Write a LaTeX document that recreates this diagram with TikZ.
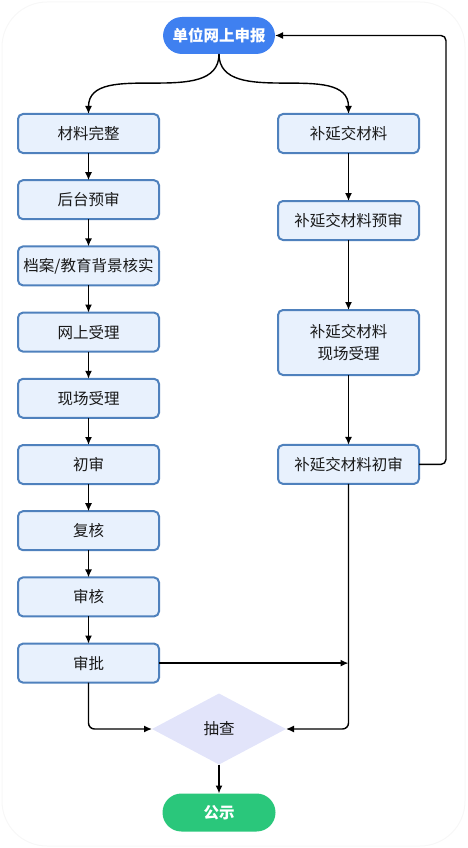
\documentclass[tikz,border=0pt]{standalone}
\usepackage{fontspec}
\setmainfont{Noto Sans CJK SC}
\usetikzlibrary{shapes.geometric,arrows.meta,positioning}
\definecolor{boxfill}{HTML}{E8F1FD}
\definecolor{boxline}{HTML}{4F81BD}
\definecolor{startblue}{HTML}{3F80F0}
\definecolor{endgreen}{HTML}{2AC77B}
\definecolor{checkfill}{HTML}{E2E4FA}
\tikzset{
    flowbox/.style   = {draw=boxline, fill=boxfill, line width=2pt, rounded corners=5pt,
                        minimum width=141pt, minimum height=39pt, inner sep=0pt, outer sep=0pt,
                        align=center, text=black!90, font=\fontsize{15.5}{22}\selectfont},
    pillbox/.style   = {draw=none, rounded corners=19pt, minimum width=113pt, minimum height=38pt,
                        inner sep=0pt, outer sep=0pt, text=white, font=\fontsize{15.5}{18}\selectfont\bfseries},
    checkbox/.style  = {diamond, draw=none, fill=checkfill, minimum width=134pt, minimum height=71pt,
                        inner sep=0pt, outer sep=0pt, text=black!90, font=\fontsize{15.5}{18}\selectfont},
    flowedge/.style  = {black, line width=1.4pt, -{Latex[length=8pt,width=7pt]}},
}

\begin{document}
\begin{tikzpicture}[x=1pt,y=1pt]
        \useasboundingbox (0,0) rectangle (467,-848);
        \draw[black!3, line width=1pt, rounded corners=45pt] (2,-2) rectangle (465,-846);

        \node[pillbox, fill=startblue, minimum width=112pt, minimum height=37pt] (S) at (219,-35.5) {单位网上申报};

        % left column
        \node[flowbox] (L1) at (88.5,-133.5) {材料完整};
        \node[flowbox, below=27.2pt of L1] (L2) {后台预审};
        \node[flowbox, below=27.2pt of L2] (L3) {档案/教育背景核实};
        \node[flowbox, below=27.2pt of L3] (L4) {网上受理};
        \node[flowbox, below=27.2pt of L4] (L5) {现场受理};
        \node[flowbox, below=27.2pt of L5] (L6) {初审};
        \node[flowbox, below=27.2pt of L6] (L7) {复核};
        \node[flowbox, below=27.2pt of L7] (L8) {审核};
        \node[flowbox, below=27.2pt of L8] (L9) {审批};

        % right column
        \node[flowbox] (R1) at (348.5,-133.5) {补延交材料};
        \node[flowbox, below=48pt of R1] (R2) {补延交材料预审};
        \node[flowbox, below=70pt of R2, minimum height=65pt] (R3) {补延交材料\\现场受理};
        \node[flowbox, below=69.9pt of R3] (R4) {补延交材料初审};

        \node[checkbox] (C) at (219,-729) {抽查};
        \node[pillbox, fill=endgreen] (G) at (219,-812.5) {公示};

        \draw[flowedge] (S.south) to[out=-90,in=90] (L1.north);
        \draw[flowedge] (S.south) to[out=-90,in=90] (R1.north);
        \foreach \a/\b in {L1/L2,L2/L3,L3/L4,L4/L5,L5/L6,L6/L7,L7/L8,L8/L9,R1/R2,R2/R3,R3/R4}
            \draw[flowedge] (\a) -- (\b);

        \draw[flowedge, rounded corners=5pt] (R4.east) -- ++(27,0) |- (S.east);
        \draw[flowedge] (L9.east) -- (L9.east -| R4.south);
        \draw[flowedge, rounded corners=6pt] (R4.south) |- (C.east);
        \draw[flowedge, rounded corners=6pt] (L9.south) |- (C.west);
        \draw[flowedge] (C) -- (G);
    \end{tikzpicture}
\end{document}
